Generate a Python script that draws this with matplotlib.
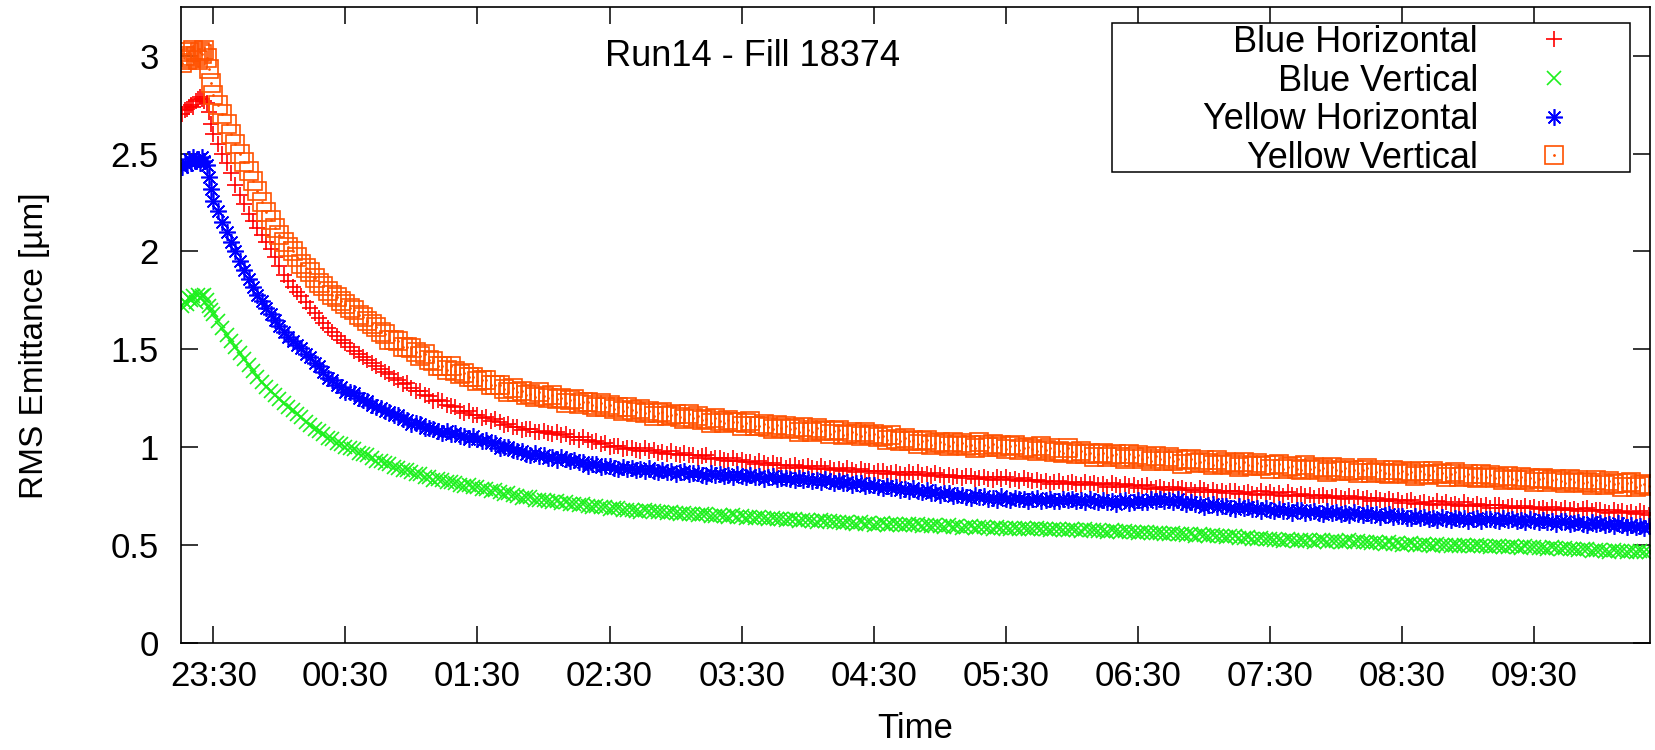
import numpy as np
import matplotlib
matplotlib.use("Agg")
import matplotlib.pyplot as plt
from matplotlib.patches import Rectangle

plt.rcParams['font.family'] = ['Liberation Sans', 'DejaVu Sans']

# ---------------- data ----------------
title = "Run14 - Fill 18374"
series_names = ["Blue Horizontal", "Blue Vertical", "Yellow Horizontal", "Yellow Vertical"]
xtick_labels = ["23:30", "00:30", "01:30", "02:30", "03:30", "04:30",
                "05:30", "06:30", "07:30", "08:30", "09:30"]
ytick_values = [0, 0.5, 1, 1.5, 2, 2.5, 3]
ytick_labels = ["0", "0.5", "1", "1.5", "2", "2.5", "3"]

# sample times, minutes relative to 23:30
blob_minutes = list(range(-14, 0))          # dense samples before 23:30
main_minutes = list(range(0, 653, 2))       # every 2 minutes afterwards
minutes = blob_minutes + main_minutes

blue_horizontal = [
    2.70, 2.72, 2.73, 2.74, 2.75, 2.74, 2.77, 2.78, 2.79, 2.78, 2.77, 2.76, 2.71, 2.65,
    2.60, 2.55, 2.50, 2.45, 2.40, 2.34, 2.29, 2.24, 2.19, 2.155, 2.12, 2.085, 2.05, 2.01, 1.97, 1.925, 1.88, 1.85, 1.82, 1.795,
    1.77, 1.74, 1.71, 1.685, 1.66, 1.635, 1.61, 1.59, 1.57, 1.55, 1.53, 1.51, 1.49, 1.475, 1.46, 1.445, 1.43, 1.415, 1.40, 1.385,
    1.376, 1.351, 1.342, 1.322, 1.330, 1.305, 1.285, 1.287, 1.268, 1.261, 1.236, 1.240, 1.238, 1.214, 1.210, 1.205, 1.187, 1.175, 1.184, 1.166,
    1.166, 1.151, 1.152, 1.134, 1.145, 1.127, 1.115, 1.119, 1.103, 1.104, 1.086, 1.093, 1.093, 1.076, 1.080, 1.082, 1.072, 1.065, 1.079, 1.064,
    1.066, 1.051, 1.052, 1.037, 1.050, 1.035, 1.025, 1.032, 1.018, 1.019, 1.001, 1.008, 1.008, 0.991, 0.995, 0.997, 0.987, 0.980, 0.994, 0.981,
    0.986, 0.973, 0.977, 0.964, 0.980, 0.967, 0.960, 0.969, 0.958, 0.961, 0.946, 0.955, 0.958, 0.941, 0.945, 0.947, 0.937, 0.930, 0.944, 0.931,
    0.936, 0.923, 0.927, 0.914, 0.930, 0.917, 0.910, 0.919, 0.908, 0.911, 0.896, 0.905, 0.908, 0.894, 0.900, 0.902, 0.892, 0.888, 0.904, 0.891,
    0.896, 0.883, 0.887, 0.877, 0.895, 0.882, 0.875, 0.887, 0.878, 0.881, 0.866, 0.876, 0.880, 0.865, 0.870, 0.874, 0.865, 0.860, 0.875, 0.864,
    0.871, 0.859, 0.864, 0.852, 0.868, 0.856, 0.850, 0.860, 0.850, 0.855, 0.841, 0.851, 0.855, 0.840, 0.845, 0.848, 0.839, 0.834, 0.849, 0.839,
    0.846, 0.834, 0.838, 0.826, 0.843, 0.831, 0.825, 0.835, 0.824, 0.828, 0.814, 0.824, 0.828, 0.813, 0.818, 0.821, 0.812, 0.807, 0.822, 0.810,
    0.816, 0.805, 0.810, 0.799, 0.816, 0.805, 0.799, 0.810, 0.800, 0.805, 0.791, 0.801, 0.805, 0.789, 0.794, 0.797, 0.787, 0.781, 0.796, 0.785,
    0.791, 0.779, 0.784, 0.773, 0.790, 0.779, 0.773, 0.783, 0.773, 0.778, 0.764, 0.774, 0.778, 0.763, 0.768, 0.772, 0.763, 0.758, 0.774, 0.763,
    0.769, 0.758, 0.764, 0.753, 0.770, 0.758, 0.752, 0.762, 0.752, 0.757, 0.743, 0.753, 0.757, 0.741, 0.746, 0.750, 0.741, 0.735, 0.750, 0.740,
    0.747, 0.735, 0.739, 0.727, 0.743, 0.731, 0.725, 0.735, 0.724, 0.728, 0.714, 0.724, 0.728, 0.712, 0.717, 0.721, 0.712, 0.707, 0.723, 0.712,
    0.718, 0.707, 0.712, 0.701, 0.718, 0.707, 0.701, 0.711, 0.701, 0.706, 0.692, 0.703, 0.707, 0.692, 0.697, 0.701, 0.692, 0.687, 0.702, 0.691,
    0.697, 0.686, 0.691, 0.680, 0.697, 0.686, 0.680, 0.691, 0.681, 0.686, 0.672, 0.683, 0.687, 0.672, 0.677, 0.680, 0.671, 0.666, 0.680, 0.669,
    0.674, 0.663, 0.668, 0.657, 0.673, 0.662, 0.656,
]

blue_vertical = [
    1.72, 1.74, 1.73, 1.76, 1.75, 1.77, 1.74, 1.78, 1.76, 1.77, 1.78, 1.75, 1.72, 1.70,
    1.68, 1.645, 1.61, 1.575, 1.54, 1.51, 1.48, 1.45, 1.42, 1.39, 1.36, 1.335, 1.31, 1.287, 1.265, 1.245, 1.225, 1.207, 1.19, 1.17,
    1.153, 1.13, 1.116, 1.093, 1.085, 1.065, 1.047, 1.041, 1.024, 1.017, 1.0, 0.997, 0.989, 0.972, 0.965, 0.958, 0.943, 0.931, 0.93, 0.917,
    0.913, 0.90, 0.896, 0.883, 0.885, 0.872, 0.862, 0.861, 0.849, 0.847, 0.835, 0.837, 0.834, 0.822, 0.82, 0.818, 0.808, 0.801, 0.805, 0.797,
    0.798, 0.788, 0.786, 0.776, 0.78, 0.77, 0.762, 0.764, 0.754, 0.752, 0.74, 0.744, 0.744, 0.732, 0.73, 0.73, 0.723, 0.718, 0.725, 0.717,
    0.718, 0.71, 0.711, 0.703, 0.71, 0.702, 0.697, 0.701, 0.694, 0.694, 0.685, 0.689, 0.689, 0.679, 0.68, 0.681, 0.675, 0.671, 0.679, 0.672,
    0.674, 0.667, 0.669, 0.662, 0.67, 0.663, 0.659, 0.664, 0.659, 0.66, 0.652, 0.657, 0.658, 0.649, 0.651, 0.653, 0.647, 0.644, 0.652, 0.645,
    0.647, 0.641, 0.643, 0.636, 0.644, 0.638, 0.634, 0.639, 0.633, 0.634, 0.626, 0.632, 0.633, 0.624, 0.626, 0.628, 0.622, 0.619, 0.627, 0.621,
    0.623, 0.616, 0.618, 0.612, 0.62, 0.614, 0.61, 0.616, 0.61, 0.612, 0.604, 0.61, 0.612, 0.604, 0.606, 0.609, 0.603, 0.601, 0.609, 0.604,
    0.606, 0.60, 0.602, 0.596, 0.605, 0.599, 0.595, 0.601, 0.595, 0.597, 0.589, 0.595, 0.596, 0.588, 0.59, 0.592, 0.586, 0.584, 0.592, 0.587,
    0.589, 0.584, 0.586, 0.581, 0.589, 0.584, 0.58, 0.587, 0.581, 0.584, 0.576, 0.583, 0.584, 0.577, 0.579, 0.582, 0.576, 0.574, 0.582, 0.576,
    0.578, 0.572, 0.574, 0.568, 0.576, 0.57, 0.566, 0.572, 0.566, 0.569, 0.561, 0.567, 0.568, 0.56, 0.562, 0.564, 0.558, 0.555, 0.563, 0.557,
    0.559, 0.553, 0.555, 0.549, 0.557, 0.551, 0.547, 0.552, 0.546, 0.547, 0.539, 0.544, 0.545, 0.536, 0.538, 0.539, 0.533, 0.529, 0.537, 0.531,
    0.532, 0.526, 0.528, 0.522, 0.531, 0.525, 0.522, 0.528, 0.523, 0.525, 0.518, 0.524, 0.526, 0.518, 0.521, 0.523, 0.518, 0.515, 0.524, 0.518,
    0.52, 0.514, 0.516, 0.51, 0.518, 0.512, 0.508, 0.514, 0.508, 0.51, 0.502, 0.508, 0.509, 0.501, 0.503, 0.506, 0.50, 0.497, 0.505, 0.50,
    0.502, 0.497, 0.499, 0.494, 0.502, 0.497, 0.493, 0.50, 0.494, 0.497, 0.489, 0.496, 0.497, 0.49, 0.492, 0.495, 0.489, 0.487, 0.495, 0.489,
    0.491, 0.485, 0.487, 0.481, 0.489, 0.483, 0.479, 0.485, 0.479, 0.481, 0.473, 0.479, 0.48, 0.472, 0.474, 0.476, 0.47, 0.467, 0.475, 0.47,
    0.472, 0.467, 0.469, 0.464, 0.472, 0.467, 0.463,
]

yellow_horizontal = [
    2.43, 2.45, 2.44, 2.47, 2.45, 2.48, 2.46, 2.47, 2.45, 2.48, 2.46, 2.44, 2.38, 2.32,
    2.26, 2.205, 2.15, 2.10, 2.05, 2.00, 1.95, 1.905, 1.86, 1.82, 1.78, 1.745, 1.71, 1.68, 1.65, 1.62, 1.59, 1.565, 1.54, 1.52,
    1.505, 1.478, 1.462, 1.431, 1.415, 1.385, 1.356, 1.345, 1.318, 1.309, 1.283, 1.283, 1.275, 1.252, 1.24, 1.234, 1.217, 1.203, 1.2, 1.186,
    1.18, 1.165, 1.167, 1.145, 1.139, 1.118, 1.123, 1.120, 1.099, 1.097, 1.095, 1.082, 1.073, 1.084, 1.069, 1.071, 1.056, 1.057, 1.042, 1.055,
    1.04, 1.03, 1.037, 1.02, 1.019, 0.998, 1.003, 1.003, 0.984, 0.982, 0.98, 0.967, 0.958, 0.969, 0.954, 0.958, 0.946, 0.949, 0.937, 0.952,
    0.94, 0.93, 0.937, 0.923, 0.924, 0.906, 0.913, 0.915, 0.899, 0.902, 0.905, 0.894, 0.888, 0.901, 0.889, 0.894, 0.883, 0.887, 0.876, 0.892,
    0.88, 0.873, 0.884, 0.873, 0.878, 0.863, 0.874, 0.877, 0.862, 0.866, 0.87, 0.86, 0.855, 0.87, 0.859, 0.864, 0.853, 0.858, 0.847, 0.863,
    0.852, 0.846, 0.857, 0.846, 0.851, 0.837, 0.848, 0.851, 0.836, 0.841, 0.845, 0.836, 0.831, 0.845, 0.834, 0.839, 0.828, 0.833, 0.822, 0.838,
    0.826, 0.819, 0.829, 0.818, 0.822, 0.806, 0.816, 0.818, 0.802, 0.805, 0.808, 0.797, 0.791, 0.804, 0.792, 0.796, 0.784, 0.787, 0.775, 0.79,
    0.778, 0.77, 0.78, 0.768, 0.772, 0.756, 0.766, 0.768, 0.752, 0.755, 0.758, 0.748, 0.742, 0.756, 0.744, 0.749, 0.738, 0.743, 0.732, 0.749,
    0.738, 0.732, 0.743, 0.733, 0.738, 0.725, 0.736, 0.74, 0.726, 0.731, 0.736, 0.727, 0.723, 0.738, 0.728, 0.734, 0.724, 0.729, 0.718, 0.735,
    0.724, 0.718, 0.729, 0.719, 0.724, 0.711, 0.723, 0.728, 0.715, 0.722, 0.728, 0.721, 0.718, 0.735, 0.726, 0.734, 0.724, 0.729, 0.718, 0.733,
    0.72, 0.712, 0.721, 0.709, 0.712, 0.696, 0.706, 0.709, 0.694, 0.698, 0.702, 0.692, 0.686, 0.701, 0.689, 0.694, 0.683, 0.687, 0.676, 0.692,
    0.681, 0.675, 0.685, 0.675, 0.68, 0.666, 0.677, 0.681, 0.666, 0.671, 0.675, 0.666, 0.661, 0.676, 0.665, 0.671, 0.66, 0.665, 0.654, 0.671,
    0.661, 0.654, 0.665, 0.654, 0.659, 0.644, 0.655, 0.658, 0.643, 0.647, 0.651, 0.641, 0.636, 0.65, 0.639, 0.645, 0.634, 0.639, 0.628, 0.646,
    0.635, 0.63, 0.641, 0.632, 0.637, 0.624, 0.635, 0.64, 0.625, 0.631, 0.635, 0.627, 0.622, 0.638, 0.627, 0.634, 0.623, 0.629, 0.618, 0.635,
    0.624, 0.618, 0.629, 0.619, 0.624, 0.61, 0.621, 0.625, 0.61, 0.615, 0.619, 0.61, 0.605, 0.62, 0.609, 0.614, 0.603, 0.607, 0.596, 0.612,
    0.601, 0.595, 0.605, 0.595, 0.599, 0.585, 0.596,
]

yellow_vertical = [
    2.96, 3.00, 2.98, 3.02, 2.99, 3.03, 3.00, 2.98, 3.02, 3.01, 3.03, 2.99, 2.93, 2.86,
    2.80, 2.75, 2.70, 2.65, 2.60, 2.55, 2.50, 2.455, 2.41, 2.36, 2.31, 2.255, 2.20, 2.16, 2.12, 2.085, 2.05, 2.025, 2.00, 1.97,
    1.935, 1.917, 1.894, 1.862, 1.84, 1.823, 1.798, 1.776, 1.765, 1.745, 1.733, 1.713, 1.701, 1.676, 1.665, 1.645, 1.627, 1.614, 1.589, 1.577,
    1.546, 1.55, 1.542, 1.511, 1.51, 1.508, 1.485, 1.464, 1.474, 1.443, 1.439, 1.414, 1.413, 1.393, 1.415, 1.39, 1.372, 1.381, 1.357, 1.361,
    1.336, 1.345, 1.342, 1.316, 1.32, 1.318, 1.295, 1.284, 1.304, 1.283, 1.289, 1.269, 1.273, 1.255, 1.28, 1.262, 1.252, 1.266, 1.247, 1.251,
    1.226, 1.242, 1.247, 1.223, 1.23, 1.233, 1.215, 1.204, 1.224, 1.205, 1.214, 1.196, 1.203, 1.183, 1.205, 1.19, 1.182, 1.196, 1.177, 1.183,
    1.161, 1.177, 1.182, 1.158, 1.165, 1.17, 1.155, 1.146, 1.169, 1.15, 1.159, 1.139, 1.143, 1.125, 1.15, 1.132, 1.122, 1.141, 1.127, 1.131,
    1.106, 1.125, 1.132, 1.108, 1.11, 1.118, 1.105, 1.094, 1.114, 1.098, 1.109, 1.091, 1.098, 1.08, 1.105, 1.087, 1.077, 1.096, 1.082, 1.088,
    1.066, 1.082, 1.087, 1.063, 1.07, 1.078, 1.065, 1.056, 1.079, 1.06, 1.069, 1.051, 1.058, 1.038, 1.06, 1.042, 1.032, 1.048, 1.032, 1.038,
    1.016, 1.032, 1.037, 1.013, 1.02, 1.028, 1.015, 1.006, 1.029, 1.013, 1.024, 1.006, 1.013, 0.998, 1.025, 1.01, 1.002, 1.018, 1.002, 1.011,
    0.991, 1.007, 1.012, 0.988, 0.995, 1.003, 0.99, 0.981, 1.004, 0.985, 0.994, 0.976, 0.983, 0.968, 0.995, 0.977, 0.967, 0.983, 0.967, 0.973,
    0.951, 0.967, 0.972, 0.951, 0.96, 0.965, 0.95, 0.941, 0.964, 0.948, 0.959, 0.941, 0.948, 0.93, 0.955, 0.94, 0.932, 0.948, 0.932, 0.938,
    0.916, 0.935, 0.942, 0.918, 0.925, 0.933, 0.92, 0.911, 0.934, 0.915, 0.924, 0.909, 0.918, 0.90, 0.925, 0.91, 0.902, 0.918, 0.902, 0.911,
    0.891, 0.907, 0.912, 0.891, 0.90, 0.905, 0.89, 0.884, 0.909, 0.89, 0.899, 0.884, 0.893, 0.875, 0.90, 0.885, 0.877, 0.893, 0.877, 0.886,
    0.866, 0.885, 0.892, 0.868, 0.875, 0.883, 0.87, 0.861, 0.884, 0.868, 0.879, 0.864, 0.873, 0.855, 0.88, 0.865, 0.857, 0.876, 0.862, 0.868,
    0.846, 0.865, 0.872, 0.848, 0.855, 0.863, 0.85, 0.841, 0.864, 0.848, 0.859, 0.841, 0.848, 0.83, 0.855, 0.84, 0.832, 0.848, 0.832, 0.841,
    0.821, 0.837, 0.842, 0.821, 0.83, 0.838, 0.825, 0.816, 0.839, 0.823, 0.834, 0.816, 0.823, 0.808, 0.835, 0.817, 0.807, 0.826, 0.812, 0.818,
    0.796, 0.815, 0.822, 0.798, 0.805, 0.813, 0.80,
]

# ---------------- figure ----------------
W, H = 1655, 750
fig = plt.figure(figsize=(W / 100, H / 100), dpi=100)
ax = fig.add_axes([181 / W, (H - 643) / H, (1650 - 181) / W, (643 - 6.7) / H])

hours = np.array(minutes) / 60.0

c_red, c_green, c_blue, c_orange = '#ff0000', '#1ef01e', '#0000ff', '#ff5200'
ms = 12
mew = 1.2

h_r, = ax.plot(hours, blue_horizontal, ls='none', marker='+', ms=ms, mew=mew, color=c_red)
h_g, = ax.plot(hours, blue_vertical, ls='none', marker='x', ms=ms * 0.85, mew=mew, color=c_green)
h_b, = ax.plot(hours, yellow_horizontal, ls='none', marker=(8, 2, 0), ms=ms, mew=mew, color=c_blue)
h_o, = ax.plot(hours, yellow_vertical, ls='none', marker='s', ms=12.5, mew=mew,
               markerfacecolor='none', markeredgecolor=c_orange)
h_od, = ax.plot(hours, yellow_vertical, ls='none', marker='.', ms=2, color=c_orange)

ax.set_xlim(-0.2445, 10.876)
ax.set_ylim(0, 3.25)
ax.set_xticks(range(len(xtick_labels)))
ax.set_xticklabels(xtick_labels)
ax.set_yticks(ytick_values)
ax.set_yticklabels(ytick_labels)

ax.tick_params(direction='in', length=12, width=1.1, top=True, right=True,
               labelsize=25, colors='black')
ax.tick_params(axis='x', pad=12.5)
ax.tick_params(axis='y', pad=16)
for s in ax.spines.values():
    s.set_linewidth(1.2)

ax.set_xlabel("Time", fontsize=25)
ax.set_ylabel("RMS Emittance [µm]", fontsize=24)
ax.xaxis.set_label_coords(0.5, -0.108)
ax.yaxis.set_label_coords(-0.089, 0.468)

ax.text(0.3887, 0.921, title, transform=ax.transAxes, ha='center', va='center', fontsize=26)

# legend (gnuplot style: labels right-aligned, samples on the right)
ax.add_patch(Rectangle((1112 / W, (H - 172) / H), (1630 - 1112) / W, (172 - 23) / H,
                       transform=fig.transFigure, facecolor='white', edgecolor='black',
                       linewidth=1.1, zorder=4, clip_on=False))
leg = ax.legend([h_r, h_g, h_b, (h_o, h_od)], series_names, loc='upper right',
                bbox_to_anchor=(1581 / W, (H - 25) / H), bbox_transform=fig.transFigure,
                markerfirst=False, frameon=False, borderpad=0, borderaxespad=0,
                handlelength=1.5, handletextpad=1.35, labelspacing=0.1, fontsize=26)
leg.set_zorder(5)

fig.savefig("out.png", dpi=100)
